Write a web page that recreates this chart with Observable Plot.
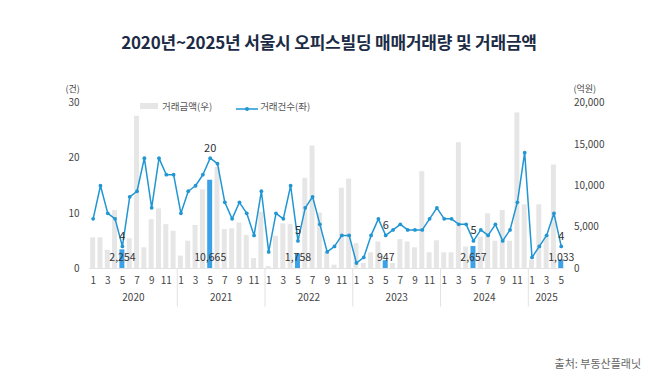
<!DOCTYPE html>
<html><head><meta charset="utf-8">
<script src="https://cdn.jsdelivr.net/npm/d3@7"></script>
<script src="https://cdn.jsdelivr.net/npm/@observablehq/plot@0.6"></script>
<style>
body{margin:0;background:#fff;font-family:"Noto Sans CJK KR","Noto Sans",sans-serif;}
#wrap{position:relative;width:658px;height:384px;overflow:hidden;}
#chart{position:absolute;left:0;top:0;}
#title{position:absolute;left:0;width:658px;top:30px;line-height:24px;text-align:center;font-size:17px;font-weight:700;color:#1c2b45;letter-spacing:-0.2px;}
#legend{position:absolute;top:98px;left:140px;font-size:9.5px;color:#555;line-height:14px;white-space:nowrap;}
#legend span{display:inline-block;vertical-align:middle;}
#caption{position:absolute;right:17px;top:355px;font-size:11px;color:#666;line-height:16px;}
</style></head>
<body><div id="wrap">
<div id="title">2020년~2025년 서울시 오피스빌딩 매매거래량 및 거래금액</div>
<div id="legend"><span style="width:18px;height:6px;background:#e6e6e6;margin-right:4px"></span><span>거래금액(우)</span><span style="width:22px;margin-left:24px;margin-right:2px;position:relative;height:8px"><svg width="22" height="8"><line x1="0" y1="4" x2="22" y2="4" stroke="#2196d3" stroke-width="1.5"/><circle cx="11" cy="4" r="2" fill="#2196d3"/></svg></span><span>거래건수(좌)</span></div>
<div id="chart"></div>
<div id="caption">출처: 부동산플래닛</div>
</div>
<script>
const years = [2020, 2021, 2022, 2023, 2024, 2025];
const monthsPerYear = [12, 12, 12, 12, 12, 5];
const highlightMonth = 5;
// 거래건수 (건, left axis)
const counts = [
  9,15,10,9,4,13,14,20,11,20,17,17,
  10,14,15,17,20,19,12,9,12,10,6,14,
  3,10,9,15,5,11,13,8,3,4,6,6,
  1,2,6,9,6,7,8,7,7,7,9,11,
  9,9,8,8,5,7,6,8,5,7,12,21,
  2,4,6,10,4
];
// 거래금액 (억원, right axis)
const amounts = [
  3700,3700,2200,7000,2254,3600,18400,2500,5900,7200,5300,4500,
  1500,3300,5200,9500,10665,12200,4700,4800,5500,4000,1200,6800,
  250,3900,5400,5300,1758,10900,14800,6700,2000,400,9700,10800,
  3000,600,1900,3200,947,600,3500,3200,2500,11700,1900,3350,
  1900,1900,15200,2600,2657,3800,6600,3300,7000,3300,18800,7700,
  1000,7700,4000,12500,1033
];
const leftTicks = [0, 10, 20, 30];
const rightTicks = [0, 5000, 10000, 15000, 20000];
const leftMax = 30, rightMax = 20000;

const data = [];
years.forEach((yr, yi) => {
  for (let m = 1; m <= monthsPerYear[yi]; m++) data.push({year: yr, month: m});
});
data.forEach((d, i) => { d.i = i; d.count = counts[i]; d.amount = amounts[i]; d.ay = amounts[i] * leftMax / rightMax; });
const may = data.filter(d => d.month === highlightMonth);
const oddMonths = data.filter(d => d.month % 2 === 1);
const yearInfo = years.map(yr => {
  const ds = data.filter(d => d.year === yr);
  return {year: yr, first: ds[0].i, last: ds[ds.length - 1].i};
});
const separators = yearInfo.slice(0, -1).map(y => y.last + 0.5);
const fmt = d3.format(",");
const blue = "#2196d3";

const chart = Plot.plot({
  width: 658, height: 384,
  marginLeft: 89, marginRight: 93.6, marginTop: 102.5, marginBottom: 116,
  x: {domain: [-0.5, data.length - 0.5], axis: null},
  y: {domain: [0, leftMax], axis: null},
  style: {fontFamily: "'Noto Sans CJK KR','Noto Sans',sans-serif", fontSize: "10px", color: "#444", background: "transparent"},
  marks: [
    Plot.rectY(data, {x1: d => d.i - 0.34, x2: d => d.i + 0.34, y1: 0, y2: "ay", fill: d => d.month === highlightMonth ? "#3ca2e8" : "#e6e6e6"}),
    Plot.ruleY([0], {stroke: "#e2e2e2"}),
    Plot.ruleX(separators, {x: d => d, y1: 0, y2: -7, stroke: "#e2e2e2"}),
    Plot.line(data, {x: "i", y: "count", stroke: blue, strokeWidth: 1.5}),
    Plot.dot(data, {x: "i", y: "count", r: 1.9, fill: blue}),
    Plot.text(may, {x: "i", y: "count", text: d => String(d.count), dy: -10, fill: "#333", fontSize: 11}),
    Plot.text(may, {x: "i", y: 0, text: d => fmt(d.amount), dy: -11, fill: "#333", fontSize: 10.5}),
    Plot.text(oddMonths, {x: "i", y: 0, text: d => String(d.month), dy: 12, fill: "#444", fontSize: 10}),
    Plot.text(yearInfo, {x: d => (d.first + d.last) / 2, y: 0, text: d => String(d.year), dy: 29, fill: "#444", fontSize: 10}),
    Plot.axisY(leftTicks, {anchor: "left", tickSize: 0, tickPadding: 10, label: null, fill: "#444", fontSize: 10}),
    Plot.axisY(rightTicks.map(v => v * leftMax / rightMax), {anchor: "right", tickSize: 0, tickPadding: 9, label: null, fill: "#444", fontSize: 10, tickFormat: v => fmt(Math.round(v * rightMax / leftMax))}),
    Plot.text(["(건)"], {frameAnchor: "top-left", textAnchor: "start", dx: -24, dy: -17, fill: "#444", fontSize: 9}),
    Plot.text(["(억원)"], {frameAnchor: "top-right", textAnchor: "start", dx: 8.5, dy: -17, fill: "#444", fontSize: 9})
  ]
});
document.getElementById("chart").appendChild(chart);
</script>
</body></html>
